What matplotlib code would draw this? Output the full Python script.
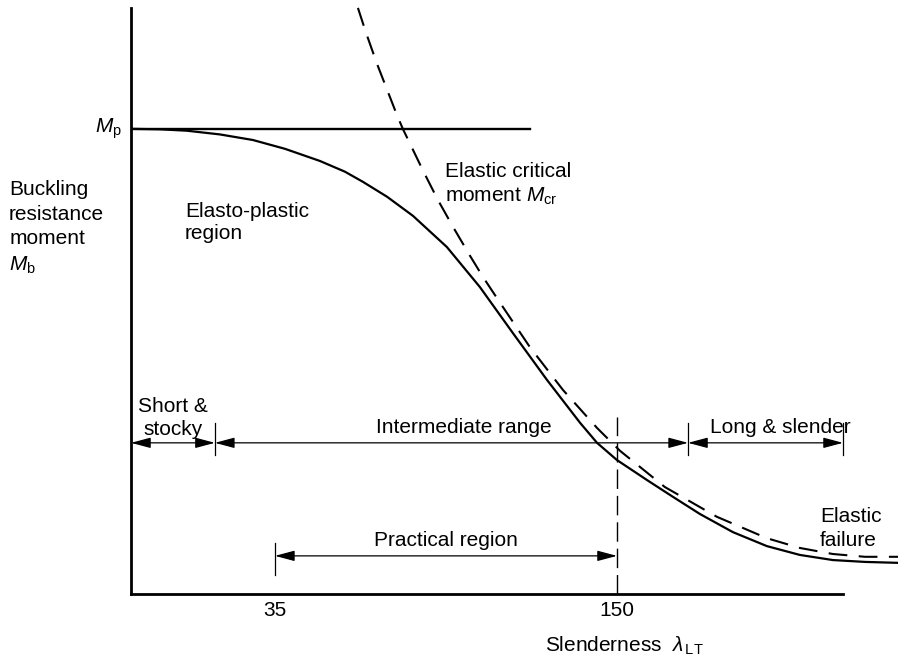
import numpy as np
import matplotlib.pyplot as plt

plt.rcParams['font.family'] = 'Liberation Sans'
plt.rcParams['font.size'] = 15
plt.rcParams['mathtext.fontset'] = 'custom'
plt.rcParams['mathtext.rm'] = 'Liberation Sans'
plt.rcParams['mathtext.it'] = 'Liberation Sans:italic'

# schematic slenderness axis (origin sits a bit left of zero), moments as M / Mp
lam_origin, lam_axis_end, lam_max = -13.4, 226.0, 244.5
m_top = 1.277

# buckling resistance moment Mb / Mp
lam_b = [-13.4, -3.7, 5.4, 16.5, 27.6, 38.4, 50.1, 58.5, 64.6, 72.7, 81.4, 92.8, 103.9,
         115.0, 126.5, 137.6, 143.3, 150.0, 160.1, 168.8, 177.9, 189.0, 200.4, 211.5,
         222.6, 233.4, 244.5]
mb = [1.000, 0.999, 0.996, 0.988, 0.976, 0.957, 0.931, 0.908, 0.886, 0.854, 0.813, 0.746,
      0.660, 0.561, 0.460, 0.368, 0.325, 0.288, 0.245, 0.209, 0.172, 0.133, 0.103, 0.084,
      0.073, 0.069, 0.067]

# elastic critical moment Mcr / Mp
lam_cr = [62.9, 65.6, 69.3, 76.0, 78.0, 84.8, 89.8, 94.9, 100.6, 104.9, 110.7, 120.7,
          131.8, 143.3, 151.0, 166.1, 183.6, 200.4, 211.5, 222.6, 233.4, 244.5]
mcr = [1.260, 1.207, 1.140, 1.030, 1.000, 0.910, 0.847, 0.789, 0.727, 0.682, 0.626, 0.531,
       0.439, 0.357, 0.308, 0.230, 0.166, 0.120, 0.099, 0.086, 0.080, 0.080]

lam_ticks = [35, 150]
mp_line_end = 120.7
lam_limit = 150          # end of practical region
limit_line_top = 0.381

# slenderness ranges
range_edges = [-13.4, 14.8, 173.9, 226.0]
range_y = 0.325
practical = [35, 150]
practical_y = 0.082

fig = plt.figure(figsize=(8.98, 6.62), dpi=100)
ax = fig.add_axes([0.1459, 0.1027, 0.8541, 0.8973])
ax.set_xlim(lam_origin, lam_max)
ax.set_ylim(0, m_top)

for s in ['top', 'right']:
    ax.spines[s].set_visible(False)
ax.spines['left'].set_bounds(0, 1.26)
ax.spines['bottom'].set_bounds(lam_origin, lam_axis_end)
ax.spines['left'].set_linewidth(2)
ax.spines['bottom'].set_linewidth(2)

ax.set_yticks([])
ax.set_xticks(lam_ticks)
ax.tick_params(axis='x', length=0, pad=5, labelsize=15)

# curves
ax.plot([lam_origin, mp_line_end], [1, 1], color='k', lw=1.7)
ax.plot(lam_b, mb, color='k', lw=1.6, solid_joinstyle='round')
ax.plot(lam_cr, mcr, color='k', lw=1.5, ls=(0, (9, 5.5)))
ax.plot([lam_limit, lam_limit], [0, limit_line_top], color='k', lw=1, ls=(0, (14, 5)))


def dim_arrow(x0, x1, y):
    ax.annotate('', xy=(x1, y), xytext=(x0, y),
                arrowprops=dict(arrowstyle='<|-|>,head_length=0.6,head_width=0.16',
                                color='k', lw=0.9, shrinkA=0, shrinkB=0,
                                mutation_scale=20))


for a, b in zip(range_edges[:-1], range_edges[1:]):
    dim_arrow(a, b, range_y)
for x in range_edges[1:]:
    ax.plot([x, x], [0.299, 0.368], color='k', lw=0.9)

dim_arrow(practical[0], practical[1], practical_y)
ax.plot([practical[0], practical[0]], [0.041, 0.110], color='k', lw=0.9)

# labels
ax.text(0.7, 0.424, 'Short &\nstocky', ha='center', va='top', linespacing=1.25)
ax.text(98.6, 0.346, 'Intermediate range', ha='center', va='baseline')
ax.text(204.8, 0.346, 'Long & slender', ha='center', va='baseline')
ax.text(92.5, 0.103, 'Practical region', ha='center', va='baseline')
ax.text(218.3, 0.187, 'Elastic\nfailure', ha='left', va='top', linespacing=1.32)
ax.text(4.7, 0.843, 'Elasto-plastic\nregion', ha='left', va='top', linespacing=1.2)
ax.text(92.2, 0.929, 'Elastic critical\nmoment $M_{\\mathrm{cr}}$', ha='left', va='top',
        linespacing=1.32)
ax.text(-16.4, 0.991, '$M_{\\mathrm{p}}$', ha='right', va='baseline')
ax.text(-54.4, 0.890, 'Buckling\nresistance\nmoment\n$M_{\\mathrm{b}}$', ha='left', va='top',
        linespacing=1.38)
ax.text(125.8, -0.125, 'Slenderness  $\\lambda_{\\,\\mathrm{LT}}$', ha='left', va='baseline')

fig.savefig('out.png', dpi=100)
